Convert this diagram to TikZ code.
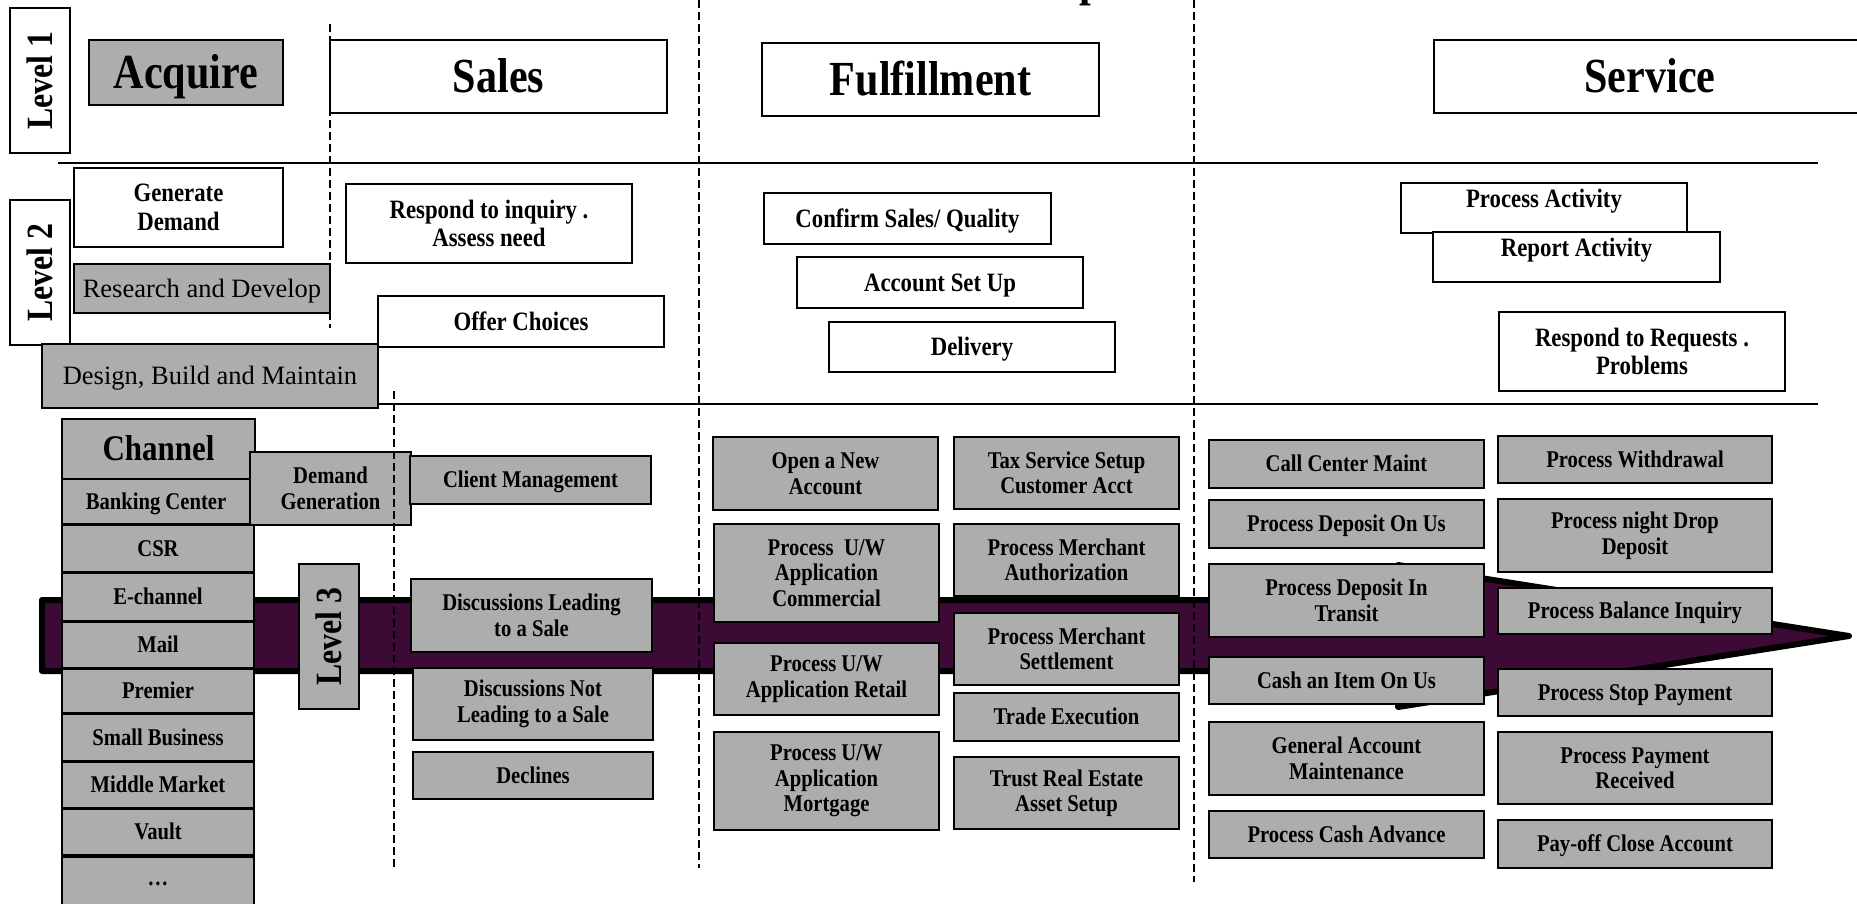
\documentclass[tikz,border=0pt]{standalone}
\usepackage{fontspec}
\setmainfont{Liberation Serif}
\newfontfamily\cf{Liberation Serif}[FakeStretch=0.86]
\definecolor{boxgray}{RGB}{173,173,173}
\definecolor{arrowpurple}{RGB}{61,10,53}
\tikzset{
  box/.style={draw, line width=1.8pt, inner sep=0pt, align=center},
  wbox/.style={box, fill=white},
  gbox/.style={box, fill=boxgray},
  ttl/.style={font=\cf\bfseries\fontsize{49}{52}\selectfont, text height=32.4pt, text depth=0pt},
  lvl/.style={font=\cf\bfseries\fontsize{37}{40}\selectfont, rotate=90},
  ltwo/.style={font=\cf\bfseries\fontsize{26.5}{28.5}\selectfont},
  lthree/.style={font=\cf\bfseries\fontsize{24}{25.5}\selectfont},
  one2/.style={text height=17.5pt, text depth=0pt},
  one3/.style={text height=15.9pt, text depth=0pt},
  reg/.style={font=\fontsize{26.5}{28.5}\selectfont, text height=17.5pt, text depth=0pt},
  rule/.style={line width=1.8pt},
  sepdash/.style={line width=1.6pt, dash pattern=on 8pt off 4pt},
}
\begin{document}
\begin{tikzpicture}[x=1pt,y=-1pt]
\clip (0,0) rectangle (1857,903);
\fill[white] (0,0) rectangle (1857,903);
% cut-off title fragment
\node[font=\cf\bfseries\fontsize{49}{52}\selectfont, anchor=base west, inner sep=0pt] (titlefrag) at (1079,-5) {p};
% rules
\coordinate (h1a) at (58,163); \coordinate (h1b) at (1818,163);
\coordinate (h2a) at (378,404); \coordinate (h2b) at (1818,404);
\draw[rule] (h1a) -- (h1b);
\draw[rule] (h2a) -- (h2b);
% big arrow
\draw[line width=6pt, line join=round, fill=arrowpurple]
  (42,600) -- (1398,600) -- (1398,565) -- (1849,636) -- (1398,707) -- (1398,671) -- (42,671) -- cycle;
% Level labels
\node[wbox, lvl, minimum width=145pt, minimum height=60pt] (lv1) at (40,80.5) {Level 1};
\node[wbox, lvl, minimum width=145pt, minimum height=60pt] (lv2) at (40,272.5) {Level 2};
% Level 1 titles
\node[gbox, ttl, minimum width=194pt, minimum height=65pt] (acq) at (186,72.5) {Acquire};
\node[wbox, ttl, minimum width=337pt, minimum height=73pt] (sales) at (498.5,76.5) {Sales};
\node[wbox, ttl, minimum width=337pt, minimum height=73pt] (ful) at (930.5,79.5) {Fulfillment};
\node[wbox, minimum width=436pt, minimum height=73pt] (srv) at (1652,76.5) {};
\node[ttl] (srvt) at (1650,76.5) {Service};
% Level 2
\node[wbox, ltwo, minimum width=209pt, minimum height=79pt] (gen) at (178.5,207.5) {Generate\\Demand};
\node[gbox, reg, minimum width=256pt, minimum height=49pt] (rnd) at (202,288.5) {Research and Develop};
\node[wbox, ltwo, minimum width=286pt, minimum height=79pt] (resp) at (489,223.5) {Respond to inquiry .\\Assess need};
\node[wbox, ltwo, one2, minimum width=286pt, minimum height=51pt] (offer) at (521,321.5) {Offer Choices};
\node[gbox, reg, minimum width=336pt, minimum height=64pt] (dbm) at (210,376) {Design, Build and Maintain};
\node[wbox, ltwo, one2, minimum width=287pt, minimum height=51pt] (conf) at (907.5,218.5) {Confirm Sales/ Quality};
\node[wbox, ltwo, one2, minimum width=286pt, minimum height=51pt] (acct) at (940,282.5) {Account Set Up};
\node[wbox, ltwo, one2, minimum width=286pt, minimum height=50pt] (deliv) at (972,347) {Delivery};
\node[wbox, minimum width=286pt, minimum height=50pt] (pact) at (1544,208) {};
\node[ltwo, one2] (pactt) at (1544,199) {Process Activity};
\node[wbox, minimum width=287pt, minimum height=50pt] (ract) at (1576.5,257) {};
\node[ltwo, one2] (ractt) at (1576.5,248) {Report Activity};
\node[wbox, ltwo, minimum width=286pt, minimum height=79pt] (rreq) at (1642,351.5) {Respond to Requests .\\Problems};
% Level 3 label
\node[gbox, lvl, minimum width=145pt, minimum height=60pt] (lv3) at (329,636.5) {Level 3};
% channel column
\node[gbox, font=\cf\bfseries\fontsize{36}{38}\selectfont, text height=23.8pt, text depth=0pt, minimum width=193pt, minimum height=60pt] (chan) at (158.5,449) {Channel};
\node[gbox, lthree, one3, minimum width=188pt, minimum height=45pt] (bank) at (156,501.5) {Banking Center};
\node[gbox, lthree, minimum width=161pt, minimum height=73pt] (dgen) at (330.5,488.5) {Demand\\Generation};
\node[gbox, lthree, one3, minimum width=241pt, minimum height=48pt] (cli) at (530.5,480) {Client Management};
\node[gbox, lthree, one3, minimum width=192pt, minimum height=47pt] (csr) at (158,548.5) {CSR};
\node[gbox, lthree, one3, minimum width=192pt, minimum height=48pt] (ech) at (158,597) {E-channel};
\node[gbox, lthree, one3, minimum width=192pt, minimum height=46pt] (mail) at (158,645) {Mail};
\node[gbox, lthree, one3, minimum width=192pt, minimum height=44pt] (prem) at (158,691) {Premier};
\node[gbox, lthree, one3, minimum width=192pt, minimum height=47pt] (smb) at (158,737.5) {Small Business};
\node[gbox, lthree, one3, minimum width=192pt, minimum height=46pt] (mid) at (158,785) {Middle Market};
\node[gbox, lthree, one3, minimum width=192pt, minimum height=46pt] (vault) at (158,832) {Vault};
\node[gbox, lthree, minimum width=192pt, minimum height=53pt] (more) at (158,883.5) {\dots};
% sales level 3
\node[gbox, lthree, minimum width=241pt, minimum height=73pt] (dls) at (531.5,615.5) {Discussions Leading\\to a Sale};
\node[gbox, lthree, minimum width=240pt, minimum height=72pt] (dnls) at (533,704) {Discussions Not\\Leading to a Sale};
\node[gbox, lthree, one3, minimum width=240pt, minimum height=47pt] (decl) at (533,775.5) {Declines};
% fulfillment level 3
\node[gbox, lthree, minimum width=225pt, minimum height=73pt] (open) at (825.5,473.5) {Open a New\\Account};
\node[gbox, lthree, minimum width=225pt, minimum height=98pt] (uwc) at (826.5,573) {Process\ \ U/W\\Application\\Commercial};
\node[gbox, lthree, minimum width=225pt, minimum height=72pt] (uwr) at (826.5,679) {Process U/W\\Application Retail};
\node[gbox, lthree, minimum width=225pt, minimum height=98pt] (uwm) at (826.5,781) {Process U/W\\Application\\Mortgage};
\node[gbox, lthree, minimum width=225pt, minimum height=72pt] (tax) at (1066.5,473) {Tax Service Setup\\Customer Acct};
\node[gbox, lthree, minimum width=225pt, minimum height=72pt] (pma) at (1066.5,560) {Process Merchant\\Authorization};
\node[gbox, lthree, minimum width=225pt, minimum height=72pt] (pms) at (1066.5,649) {Process Merchant\\Settlement};
\node[gbox, lthree, one3, minimum width=225pt, minimum height=48pt] (trade) at (1066.5,717) {Trade Execution};
\node[gbox, lthree, minimum width=225pt, minimum height=72pt] (trust) at (1066.5,793) {Trust Real Estate\\Asset Setup};
% service level 3
\node[gbox, lthree, one3, minimum width=275pt, minimum height=48pt] (ccm) at (1346.5,464) {Call Center Maint};
\node[gbox, lthree, one3, minimum width=275pt, minimum height=48pt] (pdou) at (1346.5,524) {Process Deposit On Us};
\node[gbox, lthree, minimum width=275pt, minimum height=73pt] (pdit) at (1346.5,600.5) {Process Deposit In\\Transit};
\node[gbox, lthree, one3, minimum width=275pt, minimum height=47pt] (cash) at (1346.5,680.5) {Cash an Item On Us};
\node[gbox, lthree, minimum width=275pt, minimum height=73pt] (gam) at (1346.5,758.5) {General Account\\Maintenance};
\node[gbox, lthree, one3, minimum width=275pt, minimum height=47pt] (pca) at (1346.5,834.5) {Process Cash Advance};
\node[gbox, lthree, one3, minimum width=274pt, minimum height=47pt] (pw) at (1635,459.5) {Process Withdrawal};
\node[gbox, lthree, minimum width=274pt, minimum height=73pt] (pnd) at (1635,535.5) {Process night Drop\\Deposit};
\node[gbox, lthree, one3, minimum width=274pt, minimum height=46pt] (pbi) at (1635,611) {Process Balance Inquiry};
\node[gbox, lthree, one3, minimum width=274pt, minimum height=47pt] (psp) at (1635,692.5) {Process Stop Payment};
\node[gbox, lthree, minimum width=274pt, minimum height=72pt] (ppr) at (1635,768) {Process Payment\\Received};
\node[gbox, lthree, one3, minimum width=274pt, minimum height=48pt] (poc) at (1635,844) {Pay-off Close Account};
% dashed separators
\coordinate (d1a) at (330,24);  \coordinate (d1b) at (330,328);
\coordinate (d2a) at (394,391); \coordinate (d2b) at (394,870);
\coordinate (d3a) at (699,0);   \coordinate (d3b) at (699,868);
\coordinate (d4a) at (1194,0);  \coordinate (d4b) at (1194,882);
\draw[sepdash] (d1a) -- (d1b);
\draw[sepdash] (d2a) -- (d2b);
\draw[sepdash] (d3a) -- (d3b);
\draw[sepdash] (d4a) -- (d4b);
\end{tikzpicture}
\end{document}
